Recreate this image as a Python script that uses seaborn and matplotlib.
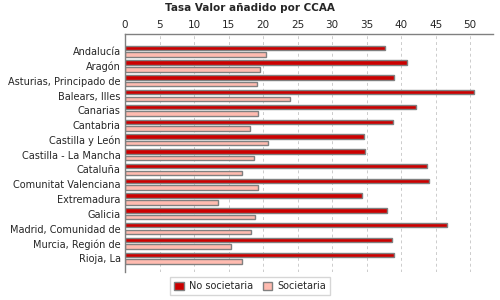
import matplotlib
matplotlib.use("Agg")
import matplotlib.pyplot as plt
import pandas as pd
import seaborn as sns

regiones = ["Andalucía", "Aragón", "Asturias, Principado de", "Balears, Illes",
            "Canarias", "Cantabria", "Castilla y León", "Castilla - La Mancha",
            "Cataluña", "Comunitat Valenciana", "Extremadura", "Galicia",
            "Madrid, Comunidad de", "Murcia, Región de", "Rioja, La"]
no_societaria = [37.6, 40.8, 39.0, 50.6, 42.1, 38.8, 34.6, 34.8,
                 43.7, 44.0, 34.3, 38.0, 46.6, 38.6, 39.0]
societaria = [20.4, 19.5, 19.1, 23.9, 19.2, 18.1, 20.7, 18.7,
              16.9, 19.2, 13.5, 18.9, 18.3, 15.3, 16.9]
series = ["No societaria", "Societaria"]
colores = ["#CC0000", "#FFBBB0"]
x_ticks = [0, 5, 10, 15, 20, 25, 30, 35, 40, 45, 50]

df = pd.DataFrame({
    "region": regiones * 2,
    "valor": no_societaria + societaria,
    "serie": [series[0]] * len(regiones) + [series[1]] * len(regiones),
})

sns.set_style("white")
plt.rcParams["font.family"] = ["DejaVu Sans"]

fig = plt.figure(figsize=(5, 3), dpi=100)
ax = fig.add_axes([0.25, 0.093, 0.736, 0.793])

sns.barplot(data=df, y="region", x="valor", hue="serie", order=regiones,
            hue_order=series, palette=colores, orient="h", width=0.9, gap=0.33,
            edgecolor="#808080", linewidth=1, saturation=1, ax=ax, legend=True)

ax.set_xlim(0, 53.3)
ax.set_ylim(14.95, -1.15)
ax.set_xticks(x_ticks)
ax.xaxis.tick_top()
ax.tick_params(axis="x", labelsize=7.5, length=0, pad=3)
ax.tick_params(axis="y", labelsize=7, length=0, pad=3)
ax.set_xlabel("")
ax.set_ylabel("")
ax.grid(axis="x", color="#cccccc", linestyle=(0, (3, 3)), linewidth=0.7)
ax.set_axisbelow(True)
for s in ["right", "bottom"]:
    ax.spines[s].set_visible(False)
for s in ["left", "top"]:
    ax.spines[s].set_color("#808080")
    ax.spines[s].set_linewidth(1)

fig.suptitle("Tasa Valor añadido por CCAA", x=0.5, y=0.99, fontsize=7.5,
             fontweight="bold")

handles, labels = ax.get_legend_handles_labels()
ax.get_legend().remove()
fig.legend(handles, labels, loc="lower center", bbox_to_anchor=(0.5, 0.0),
           ncol=2, fontsize=7, frameon=True, fancybox=False, edgecolor="#cccccc",
           handlelength=1, handleheight=1, borderpad=0.4, columnspacing=1.0,
           handletextpad=0.5)

fig.savefig("out.png", dpi=100)
